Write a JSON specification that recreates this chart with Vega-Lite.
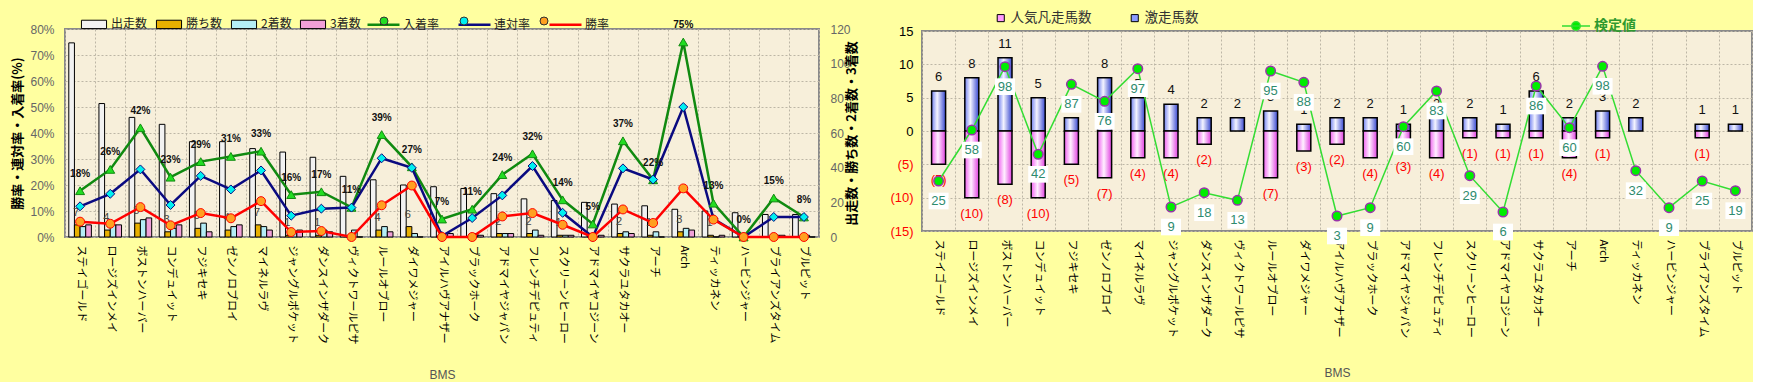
{
  "$schema": "https://vega.github.io/schema/vega-lite/v6.json",
  "background": "#FFFFA0",
  "padding": {"left": 10, "right": 0, "top": 0, "bottom": 0},
  "spacing": 28,
  "center": true,
  "config": {
    "font": "Noto Sans CJK JP",
    "view": {"fill": "#F7EFDA", "stroke": "#8A8A8A", "strokeWidth": 2},
    "axis": {"gridColor": "#BDB6A6", "gridDash": [2, 2], "gridWidth": 1, "ticks": false, "domain": false, "labelFont": "Liberation Sans", "titleFont": "Noto Sans CJK JP"},
    "legend": {"labelFont": "Noto Sans CJK JP", "padding": 0}
  },
  "resolve": {"scale": {"color": "independent", "stroke": "independent", "fill": "independent", "shape": "independent"}, "legend": {"color": "independent", "stroke": "independent", "fill": "independent", "shape": "independent"}},
  "datasets": {
    "left": [
      {"horse": "ステイゴールド", "出走数": 112, "勝ち数": 7, "2着数": 6, "3着数": 7, "入着率": 0.178, "連対率": 0.118, "勝率": 0.059},
      {"horse": "ロージズインメイ", "出走数": 77, "勝ち数": 4, "2着数": 7, "3着数": 7, "入着率": 0.26, "連対率": 0.166, "勝率": 0.051},
      {"horse": "ボストンハーバー", "出走数": 69, "勝ち数": 8, "2着数": 10, "3着数": 11, "入着率": 0.42, "連対率": 0.26, "勝率": 0.115},
      {"horse": "コンデュイット", "出走数": 65, "勝ち数": 3, "2着数": 5, "3着数": 7, "入着率": 0.23, "連対率": 0.123, "勝率": 0.045},
      {"horse": "フジキセキ", "出走数": 55, "勝ち数": 5, "2着数": 8, "3着数": 3, "入着率": 0.29, "連対率": 0.235, "勝率": 0.092},
      {"horse": "ゼンノロブロイ", "出走数": 55, "勝ち数": 4, "2着数": 6, "3着数": 7, "入着率": 0.31, "連対率": 0.183, "勝率": 0.072},
      {"horse": "マイネルラヴ", "出走数": 51, "勝ち数": 7, "2着数": 6, "3着数": 4, "入着率": 0.33, "連対率": 0.256, "勝率": 0.138},
      {"horse": "ジャングルポケット", "出走数": 49, "勝ち数": 1, "2着数": 3, "3着数": 4, "入着率": 0.163, "連対率": 0.082, "勝率": 0.019},
      {"horse": "ダンスインザダーク", "出走数": 46, "勝ち数": 1, "2着数": 4, "3着数": 3, "入着率": 0.174, "連対率": 0.109, "勝率": 0.023},
      {"horse": "ヴィクトワールピサ", "出走数": 35, "勝ち数": 0, "2着数": 4, "3着数": 0, "入着率": 0.114, "連対率": 0.113, "勝率": 0},
      {"horse": "ルールオブロー", "出走数": 33, "勝ち数": 4, "2着数": 6, "3着数": 3, "入着率": 0.394, "連対率": 0.303, "勝率": 0.122},
      {"horse": "ダイワメジャー", "出走数": 30, "勝ち数": 6, "2着数": 2, "3着数": 0, "入着率": 0.27, "連対率": 0.266, "勝率": 0.198},
      {"horse": "アイルハヴアナザー", "出走数": 29, "勝ち数": 0, "2着数": 0, "3着数": 2, "入着率": 0.069, "連対率": 0.004, "勝率": 0},
      {"horse": "ブラックホーク", "出走数": 28, "勝ち数": 0, "2着数": 2, "3着数": 1, "入着率": 0.107, "連対率": 0.073, "勝率": 0},
      {"horse": "アドマイヤジャパン", "出走数": 25, "勝ち数": 2, "2着数": 2, "3着数": 2, "入着率": 0.24, "連対率": 0.16, "勝率": 0.079},
      {"horse": "フレンチデピュティ", "出走数": 22, "勝ち数": 2, "2着数": 4, "3着数": 1, "入着率": 0.32, "連対率": 0.273, "勝率": 0.092},
      {"horse": "スクリーンヒーロー", "出走数": 21, "勝ち数": 1, "2着数": 1, "3着数": 1, "入着率": 0.143, "連対率": 0.093, "勝率": 0.047},
      {"horse": "アドマイヤコジーン", "出走数": 20, "勝ち数": 0, "2着数": 0, "3着数": 1, "入着率": 0.05, "連対率": 0, "勝率": 0},
      {"horse": "サクラユタカオー", "出走数": 19, "勝ち数": 2, "2着数": 3, "3着数": 2, "入着率": 0.37, "連対率": 0.264, "勝率": 0.106},
      {"horse": "アーチ", "出走数": 18, "勝ち数": 1, "2着数": 3, "3着数": 0, "入着率": 0.22, "連対率": 0.221, "勝率": 0.054},
      {"horse": "Arch", "出走数": 16, "勝ち数": 3, "2着数": 5, "3着数": 4, "入着率": 0.75, "連対率": 0.5, "勝率": 0.187},
      {"horse": "ティッカネン", "出走数": 15, "勝ち数": 1, "2着数": 0, "3着数": 1, "入着率": 0.13, "連対率": 0.07, "勝率": 0.067},
      {"horse": "ハービンジャー", "出走数": 14, "勝ち数": 0, "2着数": 0, "3着数": 0, "入着率": 0, "連対率": 0, "勝率": 0},
      {"horse": "ブライアンズタイム", "出走数": 13, "勝ち数": 0, "2着数": 1, "3着数": 1, "入着率": 0.15, "連対率": 0.077, "勝率": 0},
      {"horse": "ブルピット", "出走数": 13, "勝ち数": 0, "2着数": 1, "3着数": 0, "入着率": 0.077, "連対率": 0.077, "勝率": 0}
    ],
    "right": [
      {"horse": "ステイゴールド", "激走馬数": 6, "人気凡走馬数": -5, "pos": -7.5, "検定値": 25},
      {"horse": "ロージズインメイ", "激走馬数": 8, "人気凡走馬数": -10, "pos": 0.15, "検定値": 58},
      {"horse": "ボストンハーバー", "激走馬数": 11, "人気凡走馬数": -8, "pos": 9.65, "検定値": 98},
      {"horse": "コンデュイット", "激走馬数": 5, "人気凡走馬数": -10, "pos": -3.5, "検定値": 42},
      {"horse": "フジキセキ", "激走馬数": 2, "人気凡走馬数": -5, "pos": 7.0, "検定値": 87},
      {"horse": "ゼンノロブロイ", "激走馬数": 8, "人気凡走馬数": -7, "pos": 4.45, "検定値": 76},
      {"horse": "マイネルラヴ", "激走馬数": 5, "人気凡走馬数": -4, "pos": 9.35, "検定値": 97},
      {"horse": "ジャングルポケット", "激走馬数": 4, "人気凡走馬数": -4, "pos": -11.4, "検定値": 9},
      {"horse": "ダンスインザダーク", "激走馬数": 2, "人気凡走馬数": -2, "pos": -9.25, "検定値": 18},
      {"horse": "ヴィクトワールピサ", "激走馬数": 2, "人気凡走馬数": 0, "pos": -10.4, "検定値": 13},
      {"horse": "ルールオブロー", "激走馬数": 3, "人気凡走馬数": -7, "pos": 9.0, "検定値": 95},
      {"horse": "ダイワメジャー", "激走馬数": 1, "人気凡走馬数": -3, "pos": 7.3, "検定値": 88},
      {"horse": "アイルハヴアナザー", "激走馬数": 2, "人気凡走馬数": -2, "pos": -12.75, "検定値": 3},
      {"horse": "ブラックホーク", "激走馬数": 2, "人気凡走馬数": -4, "pos": -11.5, "検定値": 9},
      {"horse": "アドマイヤジャパン", "激走馬数": 1, "人気凡走馬数": -3, "pos": 0.65, "検定値": 60},
      {"horse": "フレンチデピュティ", "激走馬数": 2, "人気凡走馬数": -4, "pos": 6.0, "検定値": 83},
      {"horse": "スクリーンヒーロー", "激走馬数": 2, "人気凡走馬数": -1, "pos": -6.7, "検定値": 29},
      {"horse": "アドマイヤコジーン", "激走馬数": 1, "人気凡走馬数": -1, "pos": -12.15, "検定値": 6},
      {"horse": "サクラユタカオー", "激走馬数": 6, "人気凡走馬数": -1, "pos": 6.75, "検定値": 86},
      {"horse": "アーチ", "激走馬数": 2, "人気凡走馬数": -4, "pos": 0.5, "検定値": 60},
      {"horse": "Arch", "激走馬数": 3, "人気凡走馬数": -1, "pos": 9.7, "検定値": 98},
      {"horse": "ティッカネン", "激走馬数": 2, "人気凡走馬数": 0, "pos": -5.95, "検定値": 32},
      {"horse": "ハービンジャー", "激走馬数": 0, "人気凡走馬数": 0, "pos": -11.5, "検定値": 9},
      {"horse": "ブライアンズタイム", "激走馬数": 1, "人気凡走馬数": -1, "pos": -7.5, "検定値": 25},
      {"horse": "ブルピット", "激走馬数": 1, "人気凡走馬数": 0, "pos": -8.95, "検定値": 19}
    ]
  },
  "hconcat": [
    {
      "width": 754,
      "height": 208,
      "data": {"name": "left"},
      "encoding": {
        "x": {
          "field": "horse", "type": "nominal", "sort": null,
          "scale": {"paddingInner": 0, "paddingOuter": 0},
          "axis": {"labelAngle": 90, "labelAlign": "left", "labelBaseline": "middle", "labelPadding": 8, "labelFontSize": 11, "labelFont": "Noto Sans CJK JP", "labelColor": "#000", "grid": true, "tickBand": "extent", "title": "BMS", "titleFontSize": 12, "titleFontWeight": "normal", "titleColor": "#555", "titleFont": "Liberation Sans", "titlePadding": 26}
        }
      },
      "layer": [
        {
          "layer": [
            {
              "transform": [{"fold": ["出走数", "勝ち数", "2着数", "3着数"], "as": ["bk", "bv"]}],
              "mark": {"type": "bar", "stroke": "#000", "strokeWidth": 1},
              "encoding": {
                "xOffset": {"field": "bk", "type": "nominal", "sort": ["出走数", "勝ち数", "2着数", "3着数"], "scale": {"paddingInner": 0, "paddingOuter": 0.67}},
                "y": {"field": "bv", "type": "quantitative", "scale": {"domain": [0, 120]},
                  "axis": {"orient": "right", "values": [0, 20, 40, 60, 80, 100, 120], "grid": false, "labelPadding": 11, "labelFontSize": 12, "labelColor": "#666", "title": "出走数・勝ち数・2着数・3着数", "titleAngle": 270, "titleFontSize": 13, "titleFontWeight": "bold", "titleColor": "#000", "titlePadding": 8}},
                "color": {"field": "bk", "type": "nominal",
                  "scale": {"domain": ["出走数", "勝ち数", "2着数", "3着数"], "range": ["#F2F2F2", "#E8B000", "#B4EEF6", "#F0A0D8"]},
                  "legend": {"orient": "none", "legendX": 20, "legendY": -14, "direction": "horizontal", "title": null, "symbolType": "M-1.5,-0.5H1.5V0.5H-1.5Z", "symbolSize": 280, "symbolStrokeColor": "#000", "symbolStrokeWidth": 1, "labelFontSize": 12, "labelColor": "#222", "labelOffset": 8, "columnPadding": 6}}
              }
            },
            {
              "transform": [{"filter": "datum['勝ち数'] > 0"}],
              "mark": {"type": "text", "dx": -4, "dy": -12, "fontSize": 11, "color": "#444", "font": "Liberation Sans"},
              "encoding": {
                "y": {"field": "勝ち数", "type": "quantitative", "scale": {"domain": [0, 120]},
                  "axis": {"orient": "right", "values": [0, 20, 40, 60, 80, 100, 120], "grid": false, "labelPadding": 11, "labelFontSize": 12, "labelColor": "#666", "title": "出走数・勝ち数・2着数・3着数", "titleAngle": 270, "titleFontSize": 13, "titleFontWeight": "bold", "titleColor": "#000", "titlePadding": 8}},
                "text": {"field": "勝ち数", "type": "quantitative"}
              }
            }
          ]
        },
        {
          "encoding": {
            "y": {"field": "rv", "type": "quantitative", "scale": {"domain": [0, 0.8]},
              "axis": {"orient": "left", "format": ".0%", "values": [0, 0.1, 0.2, 0.3, 0.4, 0.5, 0.6, 0.7, 0.8], "grid": true, "labelPadding": 11, "labelFontSize": 12, "labelColor": "#666", "title": "勝率・連対率・入着率(%)", "titleFontSize": 13, "titleFontWeight": "bold", "titleColor": "#000", "titlePadding": 5}}
          },
          "layer": [
            {
              "transform": [{"fold": ["入着率", "連対率", "勝率"], "as": ["rk", "rv"]}],
              "mark": {"type": "line", "strokeWidth": 2.5},
              "encoding": {
                "stroke": {"field": "rk", "type": "nominal", "scale": {"domain": ["入着率", "連対率", "勝率"], "range": ["#108A10", "#0A0A80", "#FF0000"]},
                  "legend": {"orient": "none", "legendX": 309, "legendY": -14, "direction": "horizontal", "title": null, "symbolType": "M-2,0H2", "symbolSize": 256, "symbolStrokeWidth": 2.5, "labelFontSize": 12, "labelColor": "#222", "labelOffset": 10, "columnPadding": 13}},
                "detail": {"field": "rk"}
              }
            },
            {
              "transform": [{"fold": ["入着率", "連対率", "勝率"], "as": ["rkp", "rv"]}],
              "mark": {"type": "point", "filled": true, "size": 80, "strokeWidth": 1, "opacity": 1},
              "encoding": {
                "stroke": {"field": "rkp", "type": "nominal", "scale": {"domain": ["入着率", "連対率", "勝率"], "range": ["#108A10", "#0A0A80", "#FF0000"]}, "legend": null},
                "fill": {"field": "rkp", "type": "nominal", "sort": ["入着率", "連対率", "勝率"], "scale": {"range": ["#22DD22", "#00F0F0", "#FFA020"]},
                  "legend": {"orient": "none", "legendX": 313, "legendY": -14, "direction": "horizontal", "title": null, "symbolSize": 64, "symbolStrokeColor": "#333", "symbolStrokeWidth": 1, "labelFontSize": 12, "labelOpacity": 0, "labelOffset": 14, "columnPadding": 17}},
                "shape": {"field": "rkp", "type": "nominal", "sort": ["入着率", "連対率", "勝率"], "scale": {"range": ["triangle-up", "diamond", "circle"]},
                  "legend": {"orient": "none", "legendX": 313, "legendY": -14, "direction": "horizontal", "title": null, "symbolSize": 64, "symbolStrokeColor": "#333", "symbolStrokeWidth": 1, "labelFontSize": 12, "labelOpacity": 0, "labelOffset": 14, "columnPadding": 17}}
              }
            },
            {
              "transform": [{"fold": ["入着率"], "as": ["rk", "rv"]}],
              "mark": {"type": "text", "dy": -17, "fontSize": 10, "fontWeight": "bold", "color": "#111", "font": "Liberation Sans"},
              "encoding": {"text": {"field": "rv", "type": "quantitative", "format": ".0%"}}
            }
          ]
        }
      ],
      "resolve": {"scale": {"y": "independent"}}
    },
    {
      "width": 830,
      "height": 200,
      "data": {"name": "right"},
      "encoding": {
        "x": {
          "field": "horse", "type": "nominal", "sort": null,
          "scale": {"paddingInner": 0, "paddingOuter": 0},
          "axis": {"labelAngle": 90, "labelAlign": "left", "labelBaseline": "middle", "labelPadding": 8, "labelFontSize": 11, "labelFont": "Noto Sans CJK JP", "labelColor": "#000", "grid": true, "tickBand": "extent", "title": "BMS", "titleFontSize": 12, "titleFontWeight": "normal", "titleColor": "#555", "titleFont": "Liberation Sans", "titlePadding": 30}
        }
      },
      "layer": [
        {
          "transform": [{"fold": ["人気凡走馬数", "激走馬数"], "as": ["rk2", "rv2"]}],
          "mark": {"type": "square", "opacity": 0},
          "encoding": {
            "y": {"field": "rv2", "type": "quantitative", "scale": {"domain": [-15, 15]},
              "axis": {"values": [-15, -10, -5, 0, 5, 10, 15], "format": "(d", "grid": true, "labelOverlap": false, "labelPadding": 9, "labelFontSize": 13, "labelColor": {"condition": {"test": "datum.value < 0", "value": "#FF0000"}, "value": "#000"}, "title": " ", "titleFontSize": 1, "titleY": -30, "titleX": -30}},
            "color": {"field": "rk2", "type": "nominal", "scale": {"domain": ["人気凡走馬数", "激走馬数"], "range": ["#FF99FF", "#8C9CFF"]},
              "legend": {"orient": "none", "legendX": 72, "legendY": -20, "direction": "horizontal", "title": null, "symbolType": "square", "symbolSize": 50, "symbolOpacity": 1, "symbolStrokeColor": "#000", "symbolStrokeWidth": 1, "labelFontSize": 13.5, "labelColor": "#333", "labelOffset": 3, "columnPadding": 36}}
          }
        },
        {
          "transform": [{"filter": "datum['激走馬数'] > 0"}],
          "mark": {"type": "bar", "width": 14, "stroke": "#000", "strokeWidth": 1.5,
            "color": {"gradient": "linear", "x1": 0, "x2": 1, "y1": 0, "y2": 0, "stops": [{"offset": 0, "color": "#7080F0"}, {"offset": 0.4, "color": "#F4F4FF"}, {"offset": 1, "color": "#3848D0"}]}},
          "encoding": {"y": {"field": "激走馬数", "type": "quantitative", "scale": {"domain": [-15, 15]},
            "axis": {"values": [-15, -10, -5, 0, 5, 10, 15], "format": "(d", "grid": true, "labelOverlap": false, "labelPadding": 9, "labelFontSize": 13, "labelColor": {"condition": {"test": "datum.value < 0", "value": "#FF0000"}, "value": "#000"}, "title": " ", "titleFontSize": 1, "titleY": -30, "titleX": -30}}}
        },
        {
          "transform": [{"filter": "datum['人気凡走馬数'] < 0"}],
          "mark": {"type": "bar", "width": 14, "stroke": "#000", "strokeWidth": 1.5,
            "color": {"gradient": "linear", "x1": 0, "x2": 1, "y1": 0, "y2": 0, "stops": [{"offset": 0, "color": "#F060F0"}, {"offset": 0.45, "color": "#FFF0FF"}, {"offset": 1, "color": "#E040E0"}]}},
          "encoding": {"y": {"field": "人気凡走馬数", "type": "quantitative", "scale": {"domain": [-15, 15]},
            "axis": {"values": [-15, -10, -5, 0, 5, 10, 15], "format": "(d", "grid": true, "labelOverlap": false, "labelPadding": 9, "labelFontSize": 13, "labelColor": {"condition": {"test": "datum.value < 0", "value": "#FF0000"}, "value": "#000"}, "title": " ", "titleFontSize": 1, "titleY": -30, "titleX": -30}}}
        },
        {
          "mark": {"type": "rule", "color": "#FF0000", "strokeWidth": 3},
          "encoding": {"y": {"datum": 0, "type": "quantitative", "scale": {"domain": [-15, 15]},
            "axis": {"values": [-15, -10, -5, 0, 5, 10, 15], "format": "(d", "grid": true, "labelOverlap": false, "labelPadding": 9, "labelFontSize": 13, "labelColor": {"condition": {"test": "datum.value < 0", "value": "#FF0000"}, "value": "#000"}, "title": " ", "titleFontSize": 1, "titleY": -30, "titleX": -30}}}
        },
        {
          "transform": [{"filter": "datum['激走馬数'] > 0"}],
          "mark": {"type": "text", "dy": -14, "fontSize": 13, "color": "#111", "font": "Liberation Sans"},
          "encoding": {"y": {"field": "激走馬数", "type": "quantitative", "scale": {"domain": [-15, 15]},
            "axis": {"values": [-15, -10, -5, 0, 5, 10, 15], "format": "(d", "grid": true, "labelOverlap": false, "labelPadding": 9, "labelFontSize": 13, "labelColor": {"condition": {"test": "datum.value < 0", "value": "#FF0000"}, "value": "#000"}, "title": " ", "titleFontSize": 1, "titleY": -30, "titleX": -30}},
            "text": {"field": "激走馬数", "type": "quantitative"}}
        },
        {
          "transform": [{"filter": "datum['人気凡走馬数'] < 0"}],
          "mark": {"type": "text", "dy": 16, "fontSize": 13, "color": "#FF0000", "font": "Liberation Sans"},
          "encoding": {"y": {"field": "人気凡走馬数", "type": "quantitative", "scale": {"domain": [-15, 15]},
            "axis": {"values": [-15, -10, -5, 0, 5, 10, 15], "format": "(d", "grid": true, "labelOverlap": false, "labelPadding": 9, "labelFontSize": 13, "labelColor": {"condition": {"test": "datum.value < 0", "value": "#FF0000"}, "value": "#000"}, "title": " ", "titleFontSize": 1, "titleY": -30, "titleX": -30}},
            "text": {"field": "人気凡走馬数", "type": "quantitative", "format": "(d"}}
        },
        {
          "mark": {"type": "line", "strokeWidth": 1.5},
          "encoding": {
            "y": {"field": "pos", "type": "quantitative", "scale": {"domain": [-15, 15]},
              "axis": {"values": [-15, -10, -5, 0, 5, 10, 15], "format": "(d", "grid": true, "labelOverlap": false, "labelPadding": 9, "labelFontSize": 13, "labelColor": {"condition": {"test": "datum.value < 0", "value": "#FF0000"}, "value": "#000"}, "title": " ", "titleFontSize": 1, "titleY": -30, "titleX": -30}},
            "stroke": {"datum": "検定値", "scale": {"range": ["#33DD33"]},
              "legend": {"orient": "none", "legendX": 646, "legendY": -13, "title": null, "symbolType": "M-2,0H2M0.6,0A0.6,0.6,0,1,1,-0.6,0A0.6,0.6,0,1,1,0.6,0Z", "symbolSize": 196, "symbolFillColor": "#00EE00", "symbolStrokeWidth": 1.5, "labelFontSize": 14, "labelFontWeight": "bold", "labelColor": "#2F9A2F", "labelOffset": 10}}
          }
        },
        {
          "mark": {"type": "point", "shape": "M-1.2,-1H1.2V1H-1.2Z", "size": 277, "filled": true, "color": "#FFFFFF", "opacity": 1, "yOffset": 20},
          "encoding": {"y": {"field": "pos", "type": "quantitative", "scale": {"domain": [-15, 15]},
            "axis": {"values": [-15, -10, -5, 0, 5, 10, 15], "format": "(d", "grid": true, "labelOverlap": false, "labelPadding": 9, "labelFontSize": 13, "labelColor": {"condition": {"test": "datum.value < 0", "value": "#FF0000"}, "value": "#000"}, "title": " ", "titleFontSize": 1, "titleY": -30, "titleX": -30}}}
        },
        {
          "mark": {"type": "text", "dy": 20, "fontSize": 13, "color": "#2E8B6E", "font": "Liberation Sans"},
          "encoding": {"y": {"field": "pos", "type": "quantitative", "scale": {"domain": [-15, 15]},
            "axis": {"values": [-15, -10, -5, 0, 5, 10, 15], "format": "(d", "grid": true, "labelOverlap": false, "labelPadding": 9, "labelFontSize": 13, "labelColor": {"condition": {"test": "datum.value < 0", "value": "#FF0000"}, "value": "#000"}, "title": " ", "titleFontSize": 1, "titleY": -30, "titleX": -30}},
            "text": {"field": "検定値", "type": "quantitative"}}
        },
        {
          "mark": {"type": "point", "filled": true, "size": 90, "fill": "#00EE00", "stroke": "#9933AA", "strokeWidth": 1.5, "opacity": 1},
          "encoding": {"y": {"field": "pos", "type": "quantitative", "scale": {"domain": [-15, 15]},
            "axis": {"values": [-15, -10, -5, 0, 5, 10, 15], "format": "(d", "grid": true, "labelOverlap": false, "labelPadding": 9, "labelFontSize": 13, "labelColor": {"condition": {"test": "datum.value < 0", "value": "#FF0000"}, "value": "#000"}, "title": " ", "titleFontSize": 1, "titleY": -30, "titleX": -30}}}
        }
      ]
    }
  ]
}
